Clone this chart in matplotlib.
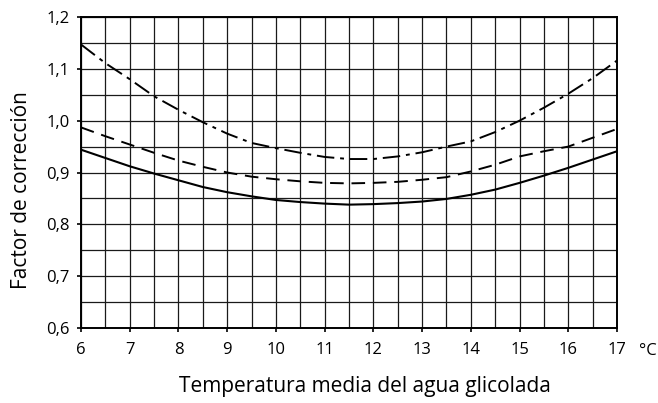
import matplotlib
matplotlib.use("Agg")
import matplotlib.pyplot as plt
from matplotlib.ticker import FuncFormatter, MultipleLocator

plt.rcParams['font.family'] = ['Open Sans', 'DejaVu Sans']

# temperatura media del agua glicolada (°C)
temp = [6, 6.5, 7, 7.5, 8, 8.5, 9, 9.5, 10, 10.5, 11, 11.5,
        12, 12.5, 13, 13.5, 14, 14.5, 15, 15.5, 16, 16.5, 17]

# factores de corrección, una curva por tipo de línea
f_dashdot = [1.147, 1.111, 1.080, 1.047, 1.021, 0.997, 0.975, 0.957,
             0.947, 0.938, 0.930, 0.926, 0.926, 0.931, 0.939, 0.950,
             0.960, 0.978, 1.000, 1.025, 1.052, 1.082, 1.116]
f_dashed = [0.987, 0.970, 0.954, 0.938, 0.923, 0.911, 0.900, 0.892,
            0.887, 0.883, 0.880, 0.879, 0.880, 0.882, 0.886, 0.891,
            0.902, 0.915, 0.931, 0.941, 0.950, 0.967, 0.984]
f_solid = [0.944, 0.928, 0.912, 0.898, 0.885, 0.872, 0.862, 0.854,
           0.847, 0.843, 0.840, 0.838, 0.839, 0.841, 0.844, 0.849,
           0.857, 0.867, 0.880, 0.894, 0.909, 0.925, 0.941]

fig = plt.figure(figsize=(6.58, 4.03), dpi=100)
ax = fig.add_axes([0.1231, 0.1861, 0.8146, 0.7717])

ax.plot(temp, f_dashdot, color='black', lw=1.4, dashes=(9, 3, 2, 3))
ax.plot(temp, f_dashed, color='black', lw=1.4, dashes=(7, 4))
ax.plot(temp, f_solid, color='black', lw=1.5)

ax.set_xlim(6, 17)
ax.set_ylim(0.6, 1.2)
ax.xaxis.set_major_locator(MultipleLocator(1))
ax.xaxis.set_minor_locator(MultipleLocator(0.5))
ax.yaxis.set_major_locator(MultipleLocator(0.1))
ax.yaxis.set_minor_locator(MultipleLocator(0.05))
ax.yaxis.set_major_formatter(FuncFormatter(lambda v, p: f"{v:.1f}".replace('.', ',')))

ax.grid(which='both', color='#1a1a1a', lw=0.9)
ax.set_axisbelow(True)
ax.tick_params(which='major', direction='out', length=3, width=1.2,
               labelsize=12, color='black')
ax.tick_params(axis='x', pad=7)
ax.tick_params(axis='y', pad=5)
ax.tick_params(which='minor', length=0)
for s in ax.spines.values():
    s.set_linewidth(1.4)

ax.set_ylabel("Factor de corrección", fontsize=15)
ax.yaxis.set_label_coords(-0.092, 0.444)
ax.set_xlabel("Temperatura media del agua glicolada", fontsize=15)
ax.xaxis.set_label_coords(0.530, -0.155)
ax.text(1.057, -0.074, "°C", transform=ax.transAxes, fontsize=12,
        ha='center', va='center')

fig.savefig("out.png", dpi=100)
